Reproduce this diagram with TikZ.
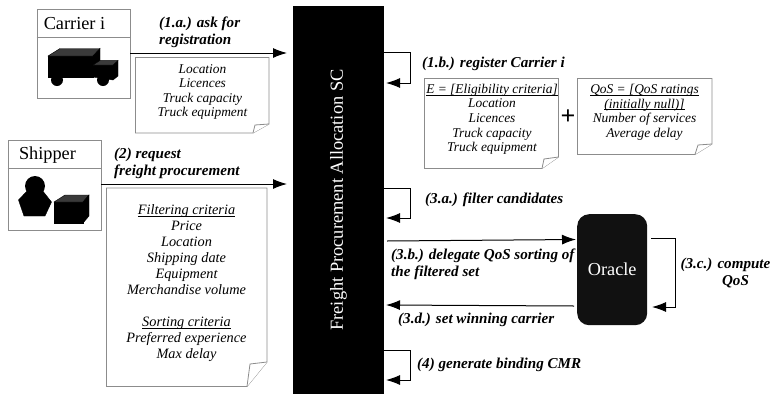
\documentclass[tikz,border=0pt]{standalone}
\usepackage{fontspec}
\setmainfont{Liberation Serif}
\usetikzlibrary{arrows.meta}
\usetikzlibrary{calc}
\definecolor{boxline}{HTML}{8c8c8c}
\definecolor{facetop}{HTML}{3a3a3a}
\definecolor{oraclebg}{HTML}{111111}
\newcommand{\papertitle}[1]{\underline{\smash{#1}}}

\begin{document}
\begin{tikzpicture}[x=1pt,y=-1pt,
actor/.style = {draw=boxline, line width=0.8pt, fill=white},
actorname/.style = {font=\fontsize{18.3}{20}\selectfont},
paper/.style = {draw=boxline, line width=0.8pt, fill=white},
papertext/.style = {align=center, font=\fontsize{13.4}{14.6}\selectfont\itshape, inner sep=0pt},
step label/.style = {align=left, anchor=west, inner sep=0pt, font=\fontsize{15.1}{17}\selectfont\bfseries\itshape},
flow/.style = {line width=1pt, -{Latex[length=14pt,width=10pt]}},
solid face/.style = {fill=black},
top face/.style = {fill=facetop}
]
\useasboundingbox (0,0) rectangle (771,394);

% main contract block
\node [fill=black, minimum width=91pt, minimum height=388pt, inner sep=0pt, anchor=north west] (sc) at (293,6) {};
\node [rotate=90, text=white, font=\fontsize{18.4}{20}\selectfont] (sclabel) at (338.5,200) {Freight Procurement Allocation SC};

% actors
\node [actor, minimum width=93pt, minimum height=89pt, inner sep=0pt, anchor=north west] (carrier) at (36.5,9) {};
\draw [boxline, line width=0.8pt] (36.5,37) -- (129.5,37);
\node [actorname] (carriername) at (74.5,24) {Carrier i};
\draw [solid face] (48,56) -- (93,56) -- (93,77) -- (48,77) -- cycle;
\draw [top face] (48,56) -- (60,48.5) -- (100,48.5) -- (93,56) -- cycle;
\draw [solid face] (93,56) -- (100,48.5) -- (100,60.5) -- (118,60.5) -- (118,76) -- (113,80) -- (93,77) -- cycle;
\draw [top face] (93,65) -- (100,60.5) -- (118,60.5) -- (113,65) -- cycle;
\fill (57,80) circle (6);
\fill (103,80) circle (6);

\node [actor, minimum width=93pt, minimum height=89.5pt, inner sep=0pt, anchor=north west] (shipper) at (7.5,140) {};
\draw [boxline, line width=0.8pt] (7.5,168) -- (100.5,168);
\node [actorname] (shippername) at (47.5,155) {Shipper};
\fill (35,186) circle (10);
\draw [solid face] (28,190) -- (42,190) -- (51.5,202) -- (45,216) -- (24,216) -- (18.5,200) -- cycle;
\draw [solid face] (54,202) -- (83,202) -- (83,223) -- (54,223) -- cycle;
\draw [top face] (54,202) -- (65,195) -- (89,195) -- (83,202) -- cycle;
\draw [solid face] (83,202) -- (89,195) -- (89,216) -- (83,223) -- cycle;

% oracle
\node [fill=oraclebg, rounded corners=12pt, minimum width=70pt, minimum height=111pt, inner sep=0pt, anchor=north west, text=white, font=\fontsize{18.3}{20}\selectfont] (oracle) at (577,214) {Oracle};

% folded papers
\draw [paper] (135.5,57.5) -- (269,57.5) -- (269,124) -- (253,133) -- (135.5,133) -- cycle;
\draw [paper] (269,124) -- (255,125) -- (253,133);
\node [papertext] (regdata) at (202.5,92) {Location\\Licences\\Truck capacity\\Truck equipment};

\draw [paper] (106.5,188) -- (267,188) -- (267,362) -- (247,386.5) -- (106.5,386.5) -- cycle;
\draw [paper] (267,362) -- (250,364) -- (247,386.5);
\node [papertext, font=\fontsize{14.3}{16}\selectfont\itshape] (criteria) at (186.5,288) {\papertitle{Filtering criteria}\\Price\\Location\\Shipping date\\Equipment\\Merchandise volume\\[16pt]\papertitle{Sorting criteria}\\Preferred experience\\Max delay};

\draw [paper] (424.5,78.5) -- (558.5,78.5) -- (558.5,157) -- (542,168.5) -- (424.5,168.5) -- cycle;
\draw [paper] (558.5,157) -- (544,159) -- (542,168.5);
\node [papertext] (eligibility) at (492,124) {\papertitle{E = [Eligibility criteria]}\\Location\\Licences\\Truck capacity\\Truck equipment};

\node [font=\fontsize{26}{26}\selectfont\bfseries] (plus) at (568,117) {+};

\draw [paper] (577.5,78.5) -- (712,78.5) -- (712,144) -- (695,154.5) -- (577.5,154.5) -- cycle;
\draw [paper] (712,144) -- (698,145) -- (695,154.5);
\node [papertext] (qos) at (644.5,117) {\papertitle{QoS = [QoS ratings}\\\papertitle{(initially null)]}\\Number of services\\Average delay};

% arrows into the contract
\coordinate (sc1a) at (287,53);
\coordinate (sc2) at (287,184);
\draw [flow] (carrier.east |- sc1a) -- (sc1a);
\draw [flow] (shipper.east |- sc2) -- (sc2);
\node [step label] (ask) at (159,32) {(1.a.) ask for\\registration};
\node [step label] (request) at (114,163) {(2) request\\freight procurement};

% self loops of the contract
\coordinate (sc1b) at (384,52);
\coordinate (sc3a) at (384,188);
\coordinate (sc4) at (384,350);
\draw [flow] (sc1b) -- ++(26,0) -- ++(0,31) -- ++(-24,0);
\draw [flow] (sc3a) -- ++(26,0) -- ++(0,30) -- ++(-24,0);
\draw [flow] (sc4) -- ++(26,0) -- ++(0,30) -- ++(-24,0);
\node [step label] (register) at (422,64) {(1.b.) register Carrier i};
\node [step label] (filter) at (425,200) {(3.a.) filter candidates};
\node [step label] (binding) at (417,365) {(4) generate binding CMR};

% contract and oracle
\coordinate (sc3b) at (387,241);
\coordinate (or3b) at (576,239.5);
\coordinate (or3d) at (574,306);
\coordinate (sc3d) at (386,305);
\draw [flow] (sc3b) -- (or3b);
\draw [flow] (or3d) -- (sc3d);
\node [step label] (delegate) at (391,264.5) {(3.b.) delegate QoS sorting of\\the filtered set};
\node [step label] (winner) at (398,320) {(3.d.) set winning carrier};

\coordinate (or3c) at (651,238);
\draw [flow] (or3c) -- ++(24,0) -- ++(0,69) -- ++(-23,0);
\node [step label, align=center, anchor=center] (compute) at (725.5,272.5) {(3.c.) compute\\\hspace*{20pt}QoS};

\end{tikzpicture}
\end{document}
